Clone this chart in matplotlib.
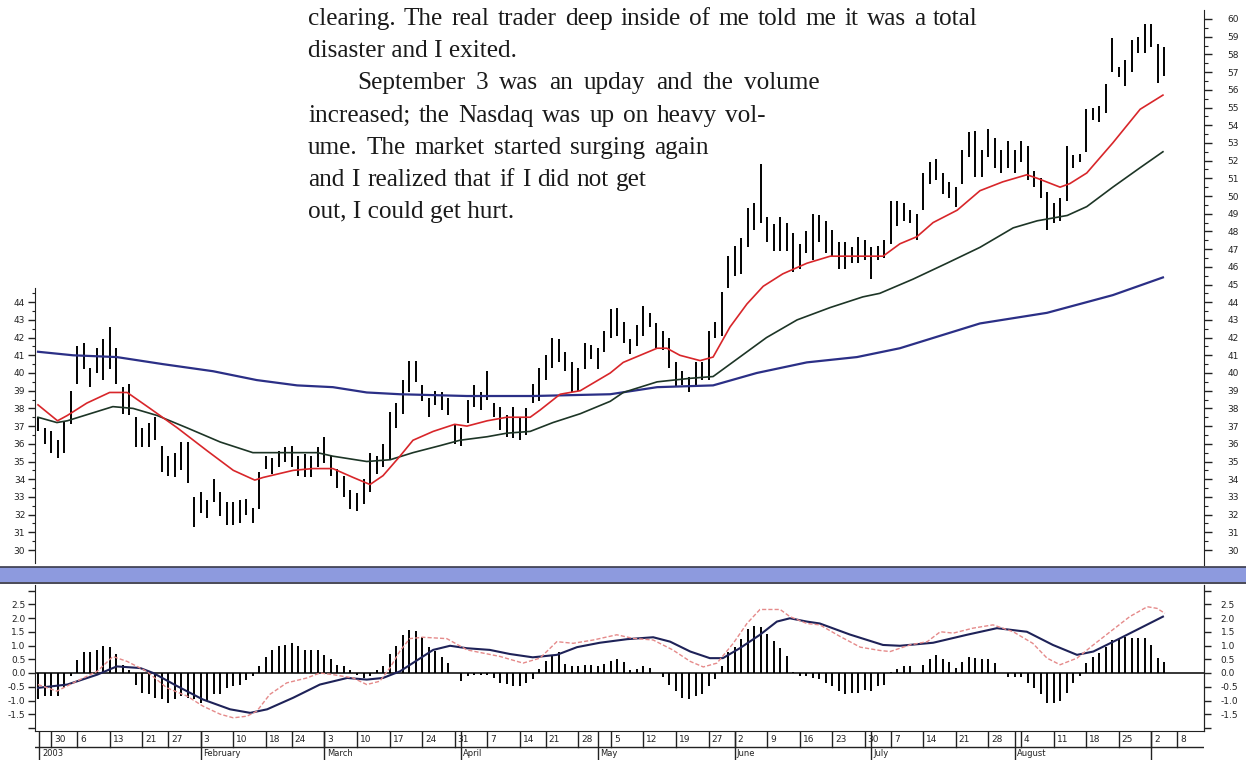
import matplotlib
matplotlib.use("Agg")
import matplotlib.pyplot as plt
import numpy as np
import pandas as pd
from matplotlib.patches import Rectangle
from matplotlib.lines import Line2D
from matplotlib.ticker import FixedLocator, FixedFormatter

# ---------------- data ----------------
holidays = ["2003-01-01", "2003-01-20", "2003-02-17", "2003-04-18",
            "2003-05-26", "2003-07-04", "2003-09-01"]
first_day = "2002-12-26"
last_axis_day = "2003-09-12"

bar_high = [37.5, 36.9, 36.7, 36.2, 37.3, 39.0, 41.5, 41.7, 40.3, 41.4,
            41.9, 42.6, 41.4, 39.2, 39.4, 37.5, 36.9, 37.2, 37.5, 35.9,
            35.3, 35.5, 36.1, 36.1, 33.0, 33.3, 32.8, 34.0, 33.3, 32.7,
            32.7, 32.8, 32.9, 32.4, 34.4, 35.3, 35.2, 35.6, 35.8, 35.9,
            35.3, 35.4, 35.3, 35.8, 36.4, 35.3, 34.6, 34.2, 33.4, 33.2,
            34.0, 35.5, 35.3, 36.0, 37.8, 38.3, 39.6, 40.7, 40.7, 39.3,
            38.6, 39.0, 38.9, 38.6, 37.1, 36.9, 38.5, 39.3, 38.9, 40.1,
            38.3, 38.1, 37.6, 38.1, 37.5, 38.0, 39.4, 40.3, 41.0, 42.0,
            41.9, 41.2, 40.6, 40.3, 41.7, 41.6, 41.4, 42.4, 43.6, 43.7,
            42.9, 41.9, 42.7, 43.8, 43.4, 42.8, 42.4, 42.0, 40.6, 40.1,
            39.8, 40.6, 40.6, 42.4, 42.9, 44.6, 46.6, 47.2, 47.6, 49.3,
            49.6, 51.8, 48.8, 48.4, 48.8, 48.5, 47.9, 47.3, 48.0, 49.0,
            48.9, 48.6, 48.1, 47.4, 47.4, 47.1, 47.7, 47.5, 47.1, 47.2,
            47.5, 49.7, 49.7, 49.6, 49.2, 49.0, 51.3, 51.9, 52.1, 51.3,
            50.8, 50.5, 52.6, 53.6, 53.7, 52.6, 53.8, 53.3, 52.6, 53.1,
            52.6, 53.1, 52.8, 51.4, 51.0, 50.2, 49.6, 49.9, 52.8, 52.3,
            52.4, 54.9, 55.0, 55.1, 56.3, 58.9, 57.3, 57.7, 58.8, 59.0,
            59.7, 59.7, 58.6, 58.4]
bar_low = [36.7, 36.0, 35.5, 35.2, 35.5, 37.1, 39.4, 40.2, 39.2, 40.0,
           39.6, 40.2, 39.4, 37.7, 37.6, 35.8, 35.8, 35.8, 36.2, 34.4,
           34.2, 34.1, 34.5, 33.8, 31.3, 32.1, 31.8, 32.7, 31.9, 31.4,
           31.4, 31.5, 32.0, 31.5, 32.3, 34.6, 34.3, 34.7, 35.0, 34.7,
           34.2, 34.1, 34.1, 34.7, 34.9, 34.2, 33.5, 33.0, 32.3, 32.2,
           32.6, 33.3, 34.3, 34.7, 35.1, 36.9, 37.7, 38.9, 39.5, 38.4,
           37.5, 38.2, 37.9, 37.6, 36.0, 35.9, 37.2, 38.1, 37.9, 38.5,
           37.5, 36.8, 36.4, 36.3, 36.2, 36.5, 38.3, 38.4, 39.6, 40.3,
           40.6, 40.1, 38.9, 39.0, 40.2, 40.8, 40.2, 41.2, 42.0, 42.1,
           41.7, 41.1, 41.5, 42.1, 42.6, 41.4, 41.3, 40.3, 39.2, 39.3,
           38.9, 39.3, 39.6, 39.6, 42.0, 42.1, 44.8, 45.5, 45.6, 47.1,
           48.1, 48.5, 47.4, 46.9, 46.9, 46.9, 45.7, 45.9, 46.8, 46.4,
           47.4, 46.8, 46.6, 45.9, 45.9, 46.2, 46.2, 46.4, 45.3, 46.4,
           46.5, 47.3, 48.3, 48.6, 48.5, 47.5, 49.2, 50.7, 50.9, 50.1,
           49.9, 49.4, 50.7, 52.2, 51.1, 51.1, 52.2, 51.6, 51.3, 51.6,
           51.3, 51.9, 50.9, 50.5, 49.9, 48.1, 48.5, 48.6, 49.7, 51.6,
           51.9, 52.5, 54.3, 54.2, 54.7, 57.0, 56.7, 56.2, 57.0, 58.1,
           58.1, 58.4, 56.4, 56.8]

# moving averages read at sample bars (bar number, value)
ma_red_bar = [0, 3, 4.5, 7.5, 11, 13.7, 17.2, 21.4, 26, 30, 33.3, 34.6, 39.2,
              42.2, 45.3, 48.4, 51, 53, 55.6, 57.6, 60.7, 64, 65.9, 69, 72,
              75.6, 77.1, 80.2, 83.3, 87.9, 89.9, 95.1, 96.6, 98.6, 101.7,
              103.7, 106.3, 108.9, 111.4, 114.4, 118.1, 121.7, 125.8, 129.8,
              132.4, 135, 137.5, 141.2, 144.7, 148.2, 151.9, 153.5, 157,
              158.5, 161.1, 165.1, 169.3, 172.8]
ma_red_val = [38.2, 37.3, 37.6, 38.3, 38.9, 38.9, 38.0, 36.9, 35.6, 34.5,
              33.95, 34.1, 34.5, 34.6, 34.6, 34.1, 33.7, 34.2, 35.3, 36.2,
              36.7, 37.1, 37.0, 37.3, 37.5, 37.5, 37.9, 38.8, 39.0, 40.0,
              40.6, 41.4, 41.4, 41.0, 40.7, 40.9, 42.6, 43.9, 44.9, 45.6,
              46.2, 46.6, 46.6, 46.6, 47.3, 47.7, 48.5, 49.2, 50.3, 50.8,
              51.2, 51.0, 50.5, 50.7, 51.3, 53.0, 54.9, 55.7]

ma_green_bar = [0, 2.9, 4.5, 8, 11.5, 14.6, 18.3, 22.9, 28, 33, 37.6, 42.9,
                45.3, 50.5, 54.1, 57.6, 61.8, 64.8, 69, 72, 75.6, 79.1, 83.3,
                87.9, 89.9, 95.1, 100.2, 103.7, 107.8, 111.9, 116.6, 121.7,
                126.7, 129.3, 134.4, 139.6, 144.7, 149.8, 153.5, 158.1,
                161.1, 165.1, 169.3, 172.8]
ma_green_val = [37.5, 37.2, 37.3, 37.7, 38.1, 38.0, 37.6, 36.9, 36.1, 35.5,
                35.5, 35.5, 35.3, 35.0, 35.1, 35.5, 35.9, 36.2, 36.4, 36.6,
                36.7, 37.2, 37.7, 38.4, 38.9, 39.5, 39.7, 39.8, 40.9, 42.0,
                43.0, 43.7, 44.3, 44.5, 45.3, 46.2, 47.1, 48.2, 48.6, 48.9,
                49.4, 50.5, 51.6, 52.5]

ma_blue_bar = [0, 5.4, 12.1, 19.2, 26.9, 33.6, 39.8, 45.3, 50.5, 55.6, 65.9,
               76, 87.9, 95.1, 103.7, 110.4, 118.1, 125.8, 132.4, 144.7,
               155, 165.1, 172.8]
ma_blue_val = [41.2, 41.0, 40.9, 40.5, 40.1, 39.6, 39.3, 39.2, 38.9, 38.8,
               38.7, 38.7, 38.8, 39.2, 39.3, 40.0, 40.6, 40.9, 41.4, 42.8,
               43.4, 44.4, 45.4]

macd_hist = [-0.96, -0.84, -0.84, -0.84, -0.54, -0.1, 0.48, 0.75, 0.75, 0.82,
             0.99, 0.94, 0.69, 0.30, 0.12, -0.42, -0.72, -0.78, -0.9, -0.96,
             -1.08, -0.96, -0.84, -0.9, -0.96, -1.08, -1.02, -0.78, -0.78, -0.54,
             -0.48, -0.42, -0.26, -0.12, 0.27, 0.60, 0.84, 0.99, 1.02, 1.08,
             0.99, 0.84, 0.82, 0.84, 0.66, 0.51, 0.30, 0.24, 0.12, -0.06,
             -0.18, -0.12, 0.12, 0.27, 0.70, 0.99, 1.39, 1.57, 1.54,
             1.3, 0.96, 0.8, 0.6, 0.36, 0.0, -0.3, -0.12, -0.06, -0.06,
             -0.06, -0.18, -0.36, -0.39, -0.48, -0.46, -0.36, -0.22, 0.14, 0.42,
             0.66, 0.75, 0.34, 0.27, 0.27, 0.29, 0.29, 0.27, 0.34, 0.42,
             0.51, 0.39, 0.12, 0.14, 0.24, 0.18, 0.0, -0.14, -0.42, -0.66,
             -0.9, -0.96, -0.84, -0.78, -0.48, -0.22, 0.27, 0.75, 0.96, 1.23,
             1.59, 1.71, 1.69, 1.42, 1.16, 0.9, 0.63, 0.02,
             -0.12, -0.12, -0.18, -0.22, -0.36, -0.48, -0.66, -0.78, -0.72,
             -0.72, -0.63, -0.66, -0.48, -0.42, 0.02, 0.14, 0.24, 0.24, 0.0,
             0.3, 0.5, 0.66, 0.5, 0.39, 0.18, 0.39, 0.6, 0.54, 0.5,
             0.5, 0.36, 0.0, -0.14, -0.14, -0.14, -0.36, -0.54, -0.78, -1.08,
             -1.1, -1.02, -0.72, -0.36, -0.12, 0.36, 0.6, 0.72, 0.94, 1.2,
             1.23, 1.3, 1.26, 1.26, 1.29, 1.02, 0.54, 0.39]

macd_fast_bar = [0, 2.9, 5.4, 9.1, 11.5, 13.7, 16.7, 19.8, 22.9, 25.3, 28, 30,
                 32.1, 33.6, 35.6, 38.2, 41.3, 43.3, 45.3, 48.4, 50.5, 52.5,
                 54.1, 55.6, 57.1, 59.1, 62.8, 65.9, 71, 74.5, 77.1, 79.7,
                 82.2, 85.3, 88.9, 91.4, 94.5, 97.5, 100.2, 102.2, 104.3,
                 106.8, 108.9, 110.9, 114, 115.5, 118.1, 120.1, 123.2, 126.3,
                 129.3, 130.9, 133.9, 136.6, 138.6, 140.6, 143.6, 146.7,
                 149.8, 152.8, 155, 157, 159.6, 162.1, 164.7, 167.7, 170.4,
                 171.9, 173.1]
macd_fast_val = [-0.42, -0.66, -0.36, 0.06, 0.6, 0.42, 0.06, -0.54, -0.84,
                 -1.2, -1.5, -1.63, -1.57, -1.39, -0.78, -0.36, -0.18, 0.0,
                 -0.06, -0.18, -0.42, -0.3, 0.2, 0.8, 1.25, 1.3, 1.25, 0.84,
                 0.6, 0.36, 0.54, 1.14, 1.08, 1.2, 1.39, 1.26, 1.2, 0.84, 0.42,
                 0.22, 0.36, 1.08, 1.8, 2.31, 2.31, 2.05, 1.8, 1.75, 1.33,
                 0.94, 0.82, 0.78, 1.02, 1.14, 1.5, 1.45, 1.63, 1.75, 1.5,
                 1.08, 0.54, 0.3, 0.54, 1.02, 1.5, 2.05, 2.41, 2.35, 2.17]

macd_slow_bar = [0, 4.5, 9.1, 12.1, 15.7, 17.7, 21.4, 25.3, 29.5, 32.6, 35.2,
                 39.2, 43.3, 47.5, 50.5, 53, 55.6, 60.7, 63.3, 65.9, 69.4,
                 72.5, 76, 79.7, 82.8, 86.3, 90.5, 94.5, 97.1, 100.2, 103.2,
                 105.2, 107.8, 110.9, 113.5, 115.5, 118.1, 120.1, 124.7,
                 129.8, 132.4, 137.5, 142.7, 147.3, 151.9, 155.9, 159.6,
                 162.1, 165.7, 172.8]
macd_slow_val = [-0.54, -0.42, -0.06, 0.24, 0.18, 0.0, -0.48, -0.96, -1.32,
                 -1.45, -1.32, -0.9, -0.42, -0.18, -0.24, -0.18, 0.06, 0.84,
                 0.99, 0.9, 0.84, 0.69, 0.57, 0.66, 0.94, 1.1, 1.23, 1.3,
                 1.14, 0.78, 0.54, 0.54, 0.9, 1.39, 1.87, 1.99, 1.87, 1.8,
                 1.4, 1.02, 0.99, 1.1, 1.39, 1.63, 1.5, 1.02, 0.66, 0.78,
                 1.2, 2.05]

week_label_dates = ["2002-12-30", "2003-01-06", "2003-01-13", "2003-01-21",
                    "2003-01-27", "2003-02-03", "2003-02-10", "2003-02-18",
                    "2003-02-24", "2003-03-03", "2003-03-10", "2003-03-17",
                    "2003-03-24", "2003-03-31", "2003-04-07", "2003-04-14",
                    "2003-04-21", "2003-04-28", "2003-05-05", "2003-05-12",
                    "2003-05-19", "2003-05-27", "2003-06-02", "2003-06-09",
                    "2003-06-16", "2003-06-23", "2003-06-30", "2003-07-07",
                    "2003-07-14", "2003-07-21", "2003-07-28", "2003-08-04",
                    "2003-08-11", "2003-08-18", "2003-08-25", "2003-09-02",
                    "2003-09-08"]
month_dates = ["2003-02-03", "2003-03-03", "2003-04-01", "2003-05-01",
               "2003-06-02", "2003-07-01", "2003-08-01", "2003-09-02"]
month_names = ["February", "March", "April", "May", "June", "July",
               "August", ""]
year_label = "2003"

left_price_ticks = list(range(30, 45))
right_price_ticks = list(range(30, 61))
macd_ticks = [-2.0, -1.5, -1.0, -0.5, 0.0, 0.5, 1.0, 1.5, 2.0, 2.5, 3.0]
macd_tick_labels = ["", "-1.5", "-1.0", "-0.5", "0.0", "0.5", "1.0", "1.5",
                    "2.0", "2.5", ""]

text_lines = [
    "clearing. The real trader deep inside of me told me it was a total",
    "disaster and I exited.",
    "September 3 was an upday and the volume",
    "increased; the Nasdaq was up on heavy vol-",
    "ume. The market started surging again",
    "and I realized that if I did not get",
    "out, I could get hurt.",
]

# ---------------- layout ----------------
W, H = 1246, 760
fig = plt.figure(figsize=(W / 100, H / 100), dpi=100)
fig.patch.set_facecolor("white")


def fx(px):
    return px / W


def fy(py):
    return 1 - py / H


def axes_px(l, t, r, b):
    return fig.add_axes([fx(l), fy(b), (r - l) / W, (b - t) / H])


days = pd.bdate_range(first_day, last_axis_day)
days = days[~days.isin(pd.to_datetime(holidays))]
pos = {d: i for i, d in enumerate(days)}
n_bars = len(bar_high)
bar_idx = np.arange(n_bars)

X0_PX, DX_PX = 38.0, 6.51
XL = ((35 - X0_PX) / DX_PX, (1204 - X0_PX) / DX_PX)

TXT = "#1a1a1a"
TICKC = "#222222"

# ----- price panel -----
ax = axes_px(35, 10, 1204, 565)
ax.set_xlim(*XL)
ax.set_ylim(30 - 15 / 17.7, 30 + 540 / 17.7)
ax.vlines(bar_idx, bar_low, bar_high, color="black", lw=1.4)
ax.plot(ma_blue_bar, ma_blue_val, color="#2b2f86", lw=1.6)
ax.plot(ma_green_bar, ma_green_val, color="#1d3526", lw=1.2)
ax.plot(ma_red_bar, ma_red_val, color="#d8262a", lw=1.2)
for s in ["top", "bottom", "right"]:
    ax.spines[s].set_visible(False)
ax.spines["left"].set_bounds(30 - 13 / 17.7, 44.8)
ax.spines["left"].set_color(TICKC)
ax.set_xticks([])
ax.yaxis.set_major_locator(FixedLocator(left_price_ticks))
ax.yaxis.set_minor_locator(FixedLocator([v + 0.5 for v in left_price_ticks]))
ax.tick_params(axis="y", which="major", length=5, width=1.0, pad=2,
               labelsize=6.5, colors=TICKC)
ax.tick_params(axis="y", which="minor", length=2.5, width=0.8, colors=TICKC)

axr = ax.twinx()
axr.set_ylim(ax.get_ylim())
for s in ["top", "bottom", "left"]:
    axr.spines[s].set_visible(False)
axr.spines["right"].set_color(TICKC)
axr.yaxis.set_major_locator(FixedLocator(right_price_ticks))
axr.yaxis.set_minor_locator(FixedLocator([v + 0.5 for v in right_price_ticks[:-1]]))
axr.tick_params(axis="y", which="major", length=6, width=1.0, pad=11,
                labelsize=6.5, colors=TICKC)
axr.tick_params(axis="y", which="minor", length=3, width=0.8, colors=TICKC)

# ----- separator band -----
fig.add_artist(Rectangle((0, fy(582)), 1, 15 / H, transform=fig.transFigure,
                         facecolor="#8d9ade", edgecolor="none"))
fig.add_artist(Line2D([0, 1], [fy(566.5), fy(566.5)], transform=fig.transFigure,
                      color="#3a3a4a", lw=1.2))
fig.add_artist(Line2D([0, 1], [fy(583), fy(583)], transform=fig.transFigure,
                      color="#2a2a3a", lw=1.2))

# ----- MACD panel -----
am = axes_px(35, 585, 1204, 731)
am.set_xlim(*XL)
am.set_ylim(-58 / 27.5, 88 / 27.5)
am.axhline(0, color="black", lw=1.1)
am.vlines(bar_idx, 0, macd_hist, color="black", lw=1.4)
am.plot(macd_slow_bar, macd_slow_val, color="#1e2258", lw=1.5)
am.plot(macd_fast_bar, macd_fast_val, color="#e58a8a", lw=1.0,
        linestyle=(0, (3, 1.5)))
am.spines["top"].set_visible(False)
for s in ["left", "right", "bottom"]:
    am.spines[s].set_color(TICKC)
am.set_xticks([])
am.yaxis.set_major_locator(FixedLocator(macd_ticks))
am.yaxis.set_major_formatter(FixedFormatter(macd_tick_labels))
am.tick_params(axis="y", which="major", length=5, width=1.0, pad=2,
               labelsize=6.5, colors=TICKC)
amr = am.twinx()
amr.set_ylim(am.get_ylim())
for s in ["top", "bottom", "left"]:
    amr.spines[s].set_visible(False)
amr.spines["right"].set_color(TICKC)
amr.yaxis.set_major_locator(FixedLocator(macd_ticks))
amr.yaxis.set_major_formatter(FixedFormatter(macd_tick_labels))
amr.tick_params(axis="y", which="major", length=5, width=1.0, pad=7,
                labelsize=6.5, colors=TICKC)

# ----- date axis -----
ad = axes_px(35, 731, 1204, 760)
ad.set_xlim(*XL)
ad.set_ylim(0, 1)
ad.axis("off")
row_y = (760 - 747) / 29
ad.plot([XL[0], XL[1]], [row_y, row_y], color=TICKC, lw=1.0)
for d in week_label_dates:
    i = pos[pd.Timestamp(d)]
    ad.plot([i, i], [1, row_y], color=TICKC, lw=1.0)
    ad.text(i + 0.45, (760 - 739.5) / 29, str(pd.Timestamp(d).day),
            fontsize=6.5, ha="left", va="center", color=TICKC)
ad.plot([0.1, 0.1], [1, 0], color=TICKC, lw=1.0)
ad.text(0.7, (760 - 753.5) / 29, year_label, fontsize=6, ha="left",
        va="center", color=TICKC)
for d, nm in zip(month_dates, month_names):
    i = pos[pd.Timestamp(d)]
    ad.plot([i, i], [1, 0], color=TICKC, lw=1.0)
    ad.text(i + 0.35, (760 - 753.5) / 29, nm, fontsize=6, ha="left",
            va="center", color=TICKC)

# ----- book text -----
SERIF = "Liberation Serif"
renderer = fig.canvas.get_renderer()


def text_width(s, fs):
    t = fig.text(0, 0, s, fontsize=fs, family=SERIF)
    w = t.get_window_extent(renderer).width
    t.remove()
    return w


line_left = [308, 308, 357, 308, 308, 308, 308]
line_right = [978, None, 820, 766, 709, 647, None]
baselines = [25 + 32.2 * k for k in range(len(text_lines))]

fs = 20 * (0.965 * (line_right[0] - line_left[0])) / text_width(text_lines[0], 20)
for s, l, r, b in zip(text_lines, line_left, line_right, baselines):
    if r is None:
        fig.text(fx(l), fy(b), s, fontsize=fs, family=SERIF, color=TXT,
                 ha="left", va="baseline")
        continue
    words = s.split(" ")
    ws = [text_width(w, fs) for w in words]
    gap = (r - l - sum(ws)) / (len(words) - 1)
    x = l
    for w, wd in zip(words, ws):
        fig.text(fx(x), fy(b), w, fontsize=fs, family=SERIF, color=TXT,
                 ha="left", va="baseline")
        x += wd + gap

fig.savefig("out.png", dpi=100, facecolor="white")
